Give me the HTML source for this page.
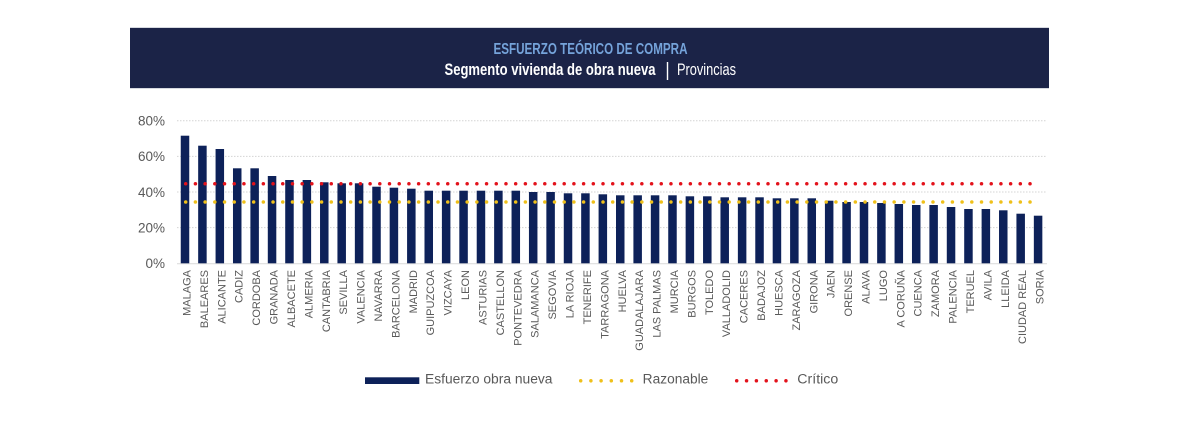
<!DOCTYPE html>
<html>
<head>
<meta charset="utf-8">
<style>
  html,body{margin:0;padding:0;background:#fff;}
  body{width:1180px;height:437px;overflow:hidden;}
  svg{display:block;}
  text{font-family:"Liberation Sans",sans-serif;}
</style>
</head>
<body>
<svg width="1180" height="437" viewBox="0 0 1180 437" xmlns="http://www.w3.org/2000/svg">
  <!-- Header -->
  <rect x="130" y="28" width="919" height="60" fill="#1b2347"/>
  <line x1="130" y1="27.5" x2="1049" y2="27.5" stroke="#d6d9e0" stroke-width="1"/>
  <line x1="130" y1="88.5" x2="1049" y2="88.5" stroke="#d6d9e0" stroke-width="1"/>
  <text x="493.5" y="54" font-size="16" font-weight="bold" fill="#75a3da" textLength="194" lengthAdjust="spacingAndGlyphs">ESFUERZO TEÓRICO DE COMPRA</text>
  <text x="444.5" y="75" font-size="16.5" font-weight="bold" fill="#ffffff" textLength="211" lengthAdjust="spacingAndGlyphs">Segmento vivienda de obra nueva</text>
  <line x1="667.5" y1="62" x2="667.5" y2="80" stroke="#ffffff" stroke-width="1.4"/>
  <text x="677" y="75" font-size="16.5" fill="#ffffff" textLength="59" lengthAdjust="spacingAndGlyphs">Provincias</text>

  <!-- Gridlines -->
  <g stroke="#d4d4d4" stroke-width="1" stroke-dasharray="1.5 1.5">
    <line x1="177" y1="120.7" x2="1047" y2="120.7"/>
    <line x1="177" y1="156.35" x2="1047" y2="156.35"/>
    <line x1="177" y1="192" x2="1047" y2="192"/>
    <line x1="177" y1="227.65" x2="1047" y2="227.65"/>
  </g>
  <line x1="177" y1="263.8" x2="1047" y2="263.8" stroke="#d9d9d9" stroke-width="1"/>

  <!-- Y labels -->
  <g font-size="13.5" fill="#595959" text-anchor="end">
    <text x="165" y="125.5">80%</text>
    <text x="165" y="161.2">60%</text>
    <text x="165" y="196.8">40%</text>
    <text x="165" y="232.5">20%</text>
    <text x="165" y="268.1">0%</text>
  </g>

  <!-- Bars -->
  <g fill="#0d2159">
    <rect x="180.75" y="135.7" width="8.5" height="127.6"/>
    <rect x="198.16" y="145.7" width="8.5" height="117.6"/>
    <rect x="215.57" y="149" width="8.5" height="114.3"/>
    <rect x="232.98" y="168.3" width="8.5" height="95"/>
    <rect x="250.39" y="168.3" width="8.5" height="95"/>
    <rect x="267.80" y="176" width="8.5" height="87.3"/>
    <rect x="285.21" y="180" width="8.5" height="83.3"/>
    <rect x="302.62" y="180" width="8.5" height="83.3"/>
    <rect x="320.03" y="182.3" width="8.5" height="81"/>
    <rect x="337.44" y="183.3" width="8.5" height="80"/>
    <rect x="354.85" y="183.3" width="8.5" height="80"/>
    <rect x="372.26" y="186.7" width="8.5" height="76.6"/>
    <rect x="389.67" y="187.7" width="8.5" height="75.6"/>
    <rect x="407.08" y="188.7" width="8.5" height="74.6"/>
    <rect x="424.49" y="190.7" width="8.5" height="72.6"/>
    <rect x="441.90" y="190.7" width="8.5" height="72.6"/>
    <rect x="459.31" y="190.7" width="8.5" height="72.6"/>
    <rect x="476.72" y="190.7" width="8.5" height="72.6"/>
    <rect x="494.13" y="190.7" width="8.5" height="72.6"/>
    <rect x="511.54" y="190.7" width="8.5" height="72.6"/>
    <rect x="528.95" y="192" width="8.5" height="71.3"/>
    <rect x="546.36" y="192" width="8.5" height="71.3"/>
    <rect x="563.77" y="193.3" width="8.5" height="70"/>
    <rect x="581.18" y="193.3" width="8.5" height="70"/>
    <rect x="598.59" y="194.3" width="8.5" height="69"/>
    <rect x="616.00" y="195.3" width="8.5" height="68"/>
    <rect x="633.41" y="195.3" width="8.5" height="68"/>
    <rect x="650.82" y="195.3" width="8.5" height="68"/>
    <rect x="668.23" y="195.3" width="8.5" height="68"/>
    <rect x="685.64" y="196.3" width="8.5" height="67"/>
    <rect x="703.05" y="196.3" width="8.5" height="67"/>
    <rect x="720.46" y="197.3" width="8.5" height="66"/>
    <rect x="737.87" y="197.3" width="8.5" height="66"/>
    <rect x="755.28" y="197.3" width="8.5" height="66"/>
    <rect x="772.69" y="198.3" width="8.5" height="65"/>
    <rect x="790.10" y="198.3" width="8.5" height="65"/>
    <rect x="807.51" y="198.3" width="8.5" height="65"/>
    <rect x="824.92" y="200.7" width="8.5" height="62.6"/>
    <rect x="842.33" y="202" width="8.5" height="61.3"/>
    <rect x="859.74" y="202" width="8.5" height="61.3"/>
    <rect x="877.15" y="203" width="8.5" height="60.3"/>
    <rect x="894.56" y="204" width="8.5" height="59.3"/>
    <rect x="911.97" y="205" width="8.5" height="58.3"/>
    <rect x="929.38" y="205" width="8.5" height="58.3"/>
    <rect x="946.79" y="207" width="8.5" height="56.3"/>
    <rect x="964.20" y="209" width="8.5" height="54.3"/>
    <rect x="981.61" y="209" width="8.5" height="54.3"/>
    <rect x="999.02" y="210.3" width="8.5" height="53"/>
    <rect x="1016.43" y="213.7" width="8.5" height="49.6"/>
    <rect x="1033.84" y="215.7" width="8.5" height="47.6"/>
  </g>

  <!-- Threshold dotted lines -->
  <line x1="185.7" y1="183.8" x2="1030.2" y2="183.8" stroke="#e3121b" stroke-width="3.5" stroke-linecap="round" stroke-dasharray="0 9.705"/>
  <line x1="185.7" y1="202" x2="1030.2" y2="202" stroke="#efc01a" stroke-width="3.5" stroke-linecap="round" stroke-dasharray="0 9.705"/>

  <!-- X labels -->
  <g font-size="11" fill="#595959" text-anchor="end">
    <text transform="translate(190.5,270) rotate(-90)">MALAGA</text>
    <text transform="translate(207.9,270) rotate(-90)">BALEARES</text>
    <text transform="translate(225.3,270) rotate(-90)">ALICANTE</text>
    <text transform="translate(242.7,270) rotate(-90)">CADIZ</text>
    <text transform="translate(260.1,270) rotate(-90)">CORDOBA</text>
    <text transform="translate(277.5,270) rotate(-90)">GRANADA</text>
    <text transform="translate(295.0,270) rotate(-90)">ALBACETE</text>
    <text transform="translate(312.4,270) rotate(-90)">ALMERIA</text>
    <text transform="translate(329.8,270) rotate(-90)">CANTABRIA</text>
    <text transform="translate(347.2,270) rotate(-90)">SEVILLA</text>
    <text transform="translate(364.6,270) rotate(-90)">VALENCIA</text>
    <text transform="translate(382.0,270) rotate(-90)">NAVARRA</text>
    <text transform="translate(399.4,270) rotate(-90)">BARCELONA</text>
    <text transform="translate(416.8,270) rotate(-90)">MADRID</text>
    <text transform="translate(434.2,270) rotate(-90)">GUIPUZCOA</text>
    <text transform="translate(451.6,270) rotate(-90)">VIZCAYA</text>
    <text transform="translate(469.1,270) rotate(-90)">LEON</text>
    <text transform="translate(486.5,270) rotate(-90)">ASTURIAS</text>
    <text transform="translate(503.9,270) rotate(-90)">CASTELLON</text>
    <text transform="translate(521.3,270) rotate(-90)">PONTEVEDRA</text>
    <text transform="translate(538.7,270) rotate(-90)">SALAMANCA</text>
    <text transform="translate(556.1,270) rotate(-90)">SEGOVIA</text>
    <text transform="translate(573.5,270) rotate(-90)">LA RIOJA</text>
    <text transform="translate(590.9,270) rotate(-90)">TENERIFE</text>
    <text transform="translate(608.3,270) rotate(-90)">TARRAGONA</text>
    <text transform="translate(625.8,270) rotate(-90)">HUELVA</text>
    <text transform="translate(643.2,270) rotate(-90)">GUADALAJARA</text>
    <text transform="translate(660.6,270) rotate(-90)">LAS PALMAS</text>
    <text transform="translate(678.0,270) rotate(-90)">MURCIA</text>
    <text transform="translate(695.4,270) rotate(-90)">BURGOS</text>
    <text transform="translate(712.8,270) rotate(-90)">TOLEDO</text>
    <text transform="translate(730.2,270) rotate(-90)">VALLADOLID</text>
    <text transform="translate(747.6,270) rotate(-90)">CACERES</text>
    <text transform="translate(765.0,270) rotate(-90)">BADAJOZ</text>
    <text transform="translate(782.4,270) rotate(-90)">HUESCA</text>
    <text transform="translate(799.9,270) rotate(-90)">ZARAGOZA</text>
    <text transform="translate(817.3,270) rotate(-90)">GIRONA</text>
    <text transform="translate(834.7,270) rotate(-90)">JAEN</text>
    <text transform="translate(852.1,270) rotate(-90)">ORENSE</text>
    <text transform="translate(869.5,270) rotate(-90)">ALAVA</text>
    <text transform="translate(886.9,270) rotate(-90)">LUGO</text>
    <text transform="translate(904.3,270) rotate(-90)">A CORUÑA</text>
    <text transform="translate(921.7,270) rotate(-90)">CUENCA</text>
    <text transform="translate(939.1,270) rotate(-90)">ZAMORA</text>
    <text transform="translate(956.5,270) rotate(-90)">PALENCIA</text>
    <text transform="translate(974.0,270) rotate(-90)">TERUEL</text>
    <text transform="translate(991.4,270) rotate(-90)">AVILA</text>
    <text transform="translate(1008.8,270) rotate(-90)">LLEIDA</text>
    <text transform="translate(1026.2,270) rotate(-90)">CIUDAD REAL</text>
    <text transform="translate(1043.6,270) rotate(-90)">SORIA</text>
  </g>

  <!-- Legend -->
  <rect x="365" y="377.3" width="54.3" height="6.7" fill="#0d2159"/>
  <text x="425" y="383.5" font-size="13.5" fill="#595959" textLength="127.5" lengthAdjust="spacingAndGlyphs">Esfuerzo obra nueva</text>
  <line x1="580.7" y1="380.8" x2="632" y2="380.8" stroke="#efc01a" stroke-width="3.5" stroke-linecap="round" stroke-dasharray="0 10.2"/>
  <text x="642.7" y="383.5" font-size="13.5" fill="#595959" textLength="65.6" lengthAdjust="spacingAndGlyphs">Razonable</text>
  <line x1="736.7" y1="380.8" x2="786.5" y2="380.8" stroke="#e3121b" stroke-width="3.5" stroke-linecap="round" stroke-dasharray="0 9.85"/>
  <text x="797.3" y="383.5" font-size="13.5" fill="#595959" textLength="41" lengthAdjust="spacingAndGlyphs">Crítico</text>
</svg>
</body>
</html>
